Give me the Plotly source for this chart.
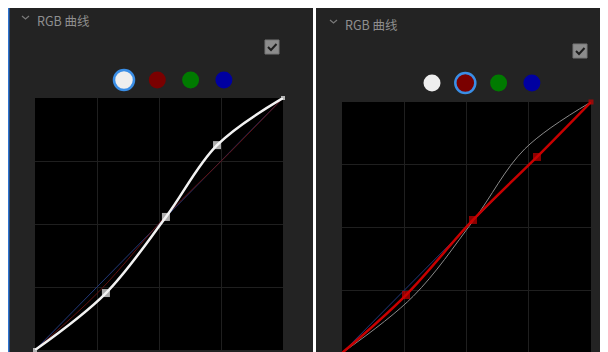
import plotly.graph_objects as go

# page has an 8px body margin, so the figure sits at (8, 8) in the window
OFF = 8
W, H = 600, 344

# curve control points (0..1 input -> 0..1 output)
white_x = [0, 0.286, 0.528, 0.734, 1]
white_y = [0, 0.226, 0.528, 0.813, 1]
red_x = [0, 0.257, 0.526, 0.783, 1]
red_y = [0, 0.231, 0.530, 0.781, 1]
diag_x = [0, 1]
diag_y = [0, 1]

channel_colors = ["#eeeeee", "#7a0000", "#007a00", "#0000a0"]

PANEL = "#232323"
GRID = "#1f1f1f"
RING = "#3a8ee6"
TEXT = "#8e8e8e"
DIAG = "#22397a"


def px(x):
    # window pixel -> paper fraction
    return (x - OFF) / W


def py(y):
    return 1 - (y - OFF) / H


def path(pts):
    return "M " + " L ".join(f"{px(x):.5f},{py(y):.5f}" for x, y in pts)


fig = go.Figure()

# left panel: white channel selected
fig.add_trace(go.Scatter(x=diag_x, y=diag_y, mode="lines", line=dict(color=DIAG, width=1),
                         xaxis="x", yaxis="y", hoverinfo="skip"))
fig.add_trace(go.Scatter(x=red_x, y=red_y, mode="lines", line=dict(color="#601010", width=1, shape="spline"),
                         xaxis="x", yaxis="y", hoverinfo="skip"))
fig.add_trace(go.Scatter(x=white_x, y=white_y, mode="lines+markers",
                         line=dict(color="#f2f2f2", width=2.5, shape="spline", smoothing=1),
                         marker=dict(symbol="square", size=[4, 8, 8, 8, 4], color="#f4f4f4", line_width=0),
                         cliponaxis=False, xaxis="x", yaxis="y"))

# right panel: red channel selected
fig.add_trace(go.Scatter(x=white_x, y=white_y, mode="lines",
                         line=dict(color="#8a8a8a", width=1, shape="spline", smoothing=1),
                         xaxis="x2", yaxis="y2", hoverinfo="skip"))
fig.add_trace(go.Scatter(x=diag_x, y=diag_y, mode="lines", line=dict(color=DIAG, width=1),
                         xaxis="x2", yaxis="y2", hoverinfo="skip"))
fig.add_trace(go.Scatter(x=red_x, y=red_y, mode="lines+markers",
                         line=dict(color="#c80000", width=2.5, shape="spline", smoothing=1),
                         marker=dict(symbol="square", size=[4, 8, 8, 8, 5], color="#c80000", line_width=0),
                         cliponaxis=False, xaxis="x2", yaxis="y2"))

shapes = [
    # panels
    dict(type="rect", xref="paper", yref="paper", x0=px(9), x1=px(313), y0=0, y1=1,
         fillcolor=PANEL, line_width=0, layer="below"),
    dict(type="rect", xref="paper", yref="paper", x0=px(8), x1=px(9.5), y0=0, y1=1,
         fillcolor="#2f74d0", line_width=0, layer="below"),
    dict(type="rect", xref="paper", yref="paper", x0=px(316), x1=1, y0=0, y1=1,
         fillcolor=PANEL, line_width=0, layer="below"),
    # plot areas
    dict(type="rect", xref="x domain", yref="y domain", x0=0, x1=1, y0=0, y1=1,
         fillcolor="#000000", line_width=0, layer="below"),
    dict(type="rect", xref="x2 domain", yref="y2 domain", x0=0, x1=1, y0=0, y1=1,
         fillcolor="#000000", line_width=0, layer="below"),
]

annotations = []
for dx, dy in [(0, 0), (308, 4)]:
    # chevron + title
    shapes.append(dict(type="path", xref="paper", yref="paper",
                       path=path([(22 + dx, 16 + dy), (25.5 + dx, 19 + dy), (29 + dx, 16 + dy)]),
                       line=dict(color="#7a7a7a", width=1.2)))
    annotations.append(dict(text="RGB 曲线", xref="paper", yref="paper", x=px(35 + dx), y=py(21 + dy),
                            xanchor="left", yanchor="middle", showarrow=False,
                            font=dict(family="Noto Sans CJK SC", size=12.5, color=TEXT)))
    # checkbox
    shapes.append(dict(type="rect", xref="paper", yref="paper", x0=px(265 + dx), x1=px(279 + dx),
                       y0=py(54 + dy), y1=py(40 + dy), fillcolor="#8c8c8c", line=dict(color="#777", width=1)))
    shapes.append(dict(type="path", xref="paper", yref="paper",
                       path=path([(268 + dx, 47 + dy), (271 + dx, 50 + dy), (276.5 + dx, 44 + dy)]),
                       line=dict(color="#1e1e1e", width=2)))

# channel selector dots
for dx, dy, sel in [(0, 0, 0), (308, 3, 1)]:
    for i, c in enumerate(channel_colors):
        cx = 124 + dx + i * 33.3
        cy = 80 + dy
        if i == sel:
            r = 10
            shapes.append(dict(type="circle", xref="paper", yref="paper",
                               x0=px(cx - r), x1=px(cx + r), y0=py(cy + r), y1=py(cy - r),
                               fillcolor=c, line=dict(color=RING, width=2.5)))
        else:
            r = 8.5
            shapes.append(dict(type="circle", xref="paper", yref="paper",
                               x0=px(cx - r), x1=px(cx + r), y0=py(cy + r), y1=py(cy - r),
                               fillcolor=c, line_width=0))

axis_common = dict(range=[0, 1], dtick=0.25, tick0=0, showgrid=True, gridcolor=GRID, gridwidth=1,
                   zeroline=False, showticklabels=False, ticks="", showline=False, fixedrange=True)

fig.update_layout(
    width=W, height=H,
    margin=dict(l=0, r=0, t=0, b=0),
    paper_bgcolor="white",
    plot_bgcolor="rgba(0,0,0,0)",
    showlegend=False,
    shapes=shapes,
    annotations=annotations,
    xaxis=dict(axis_common, domain=[px(35), px(283)], anchor="y"),
    yaxis=dict(axis_common, domain=[py(350), py(98)], anchor="x"),
    xaxis2=dict(axis_common, domain=[px(342), px(591)], anchor="y2"),
    yaxis2=dict(axis_common, range=[0.004, 1], domain=[0, py(102)], anchor="x2"),
)

fig.write_html("out.html")
